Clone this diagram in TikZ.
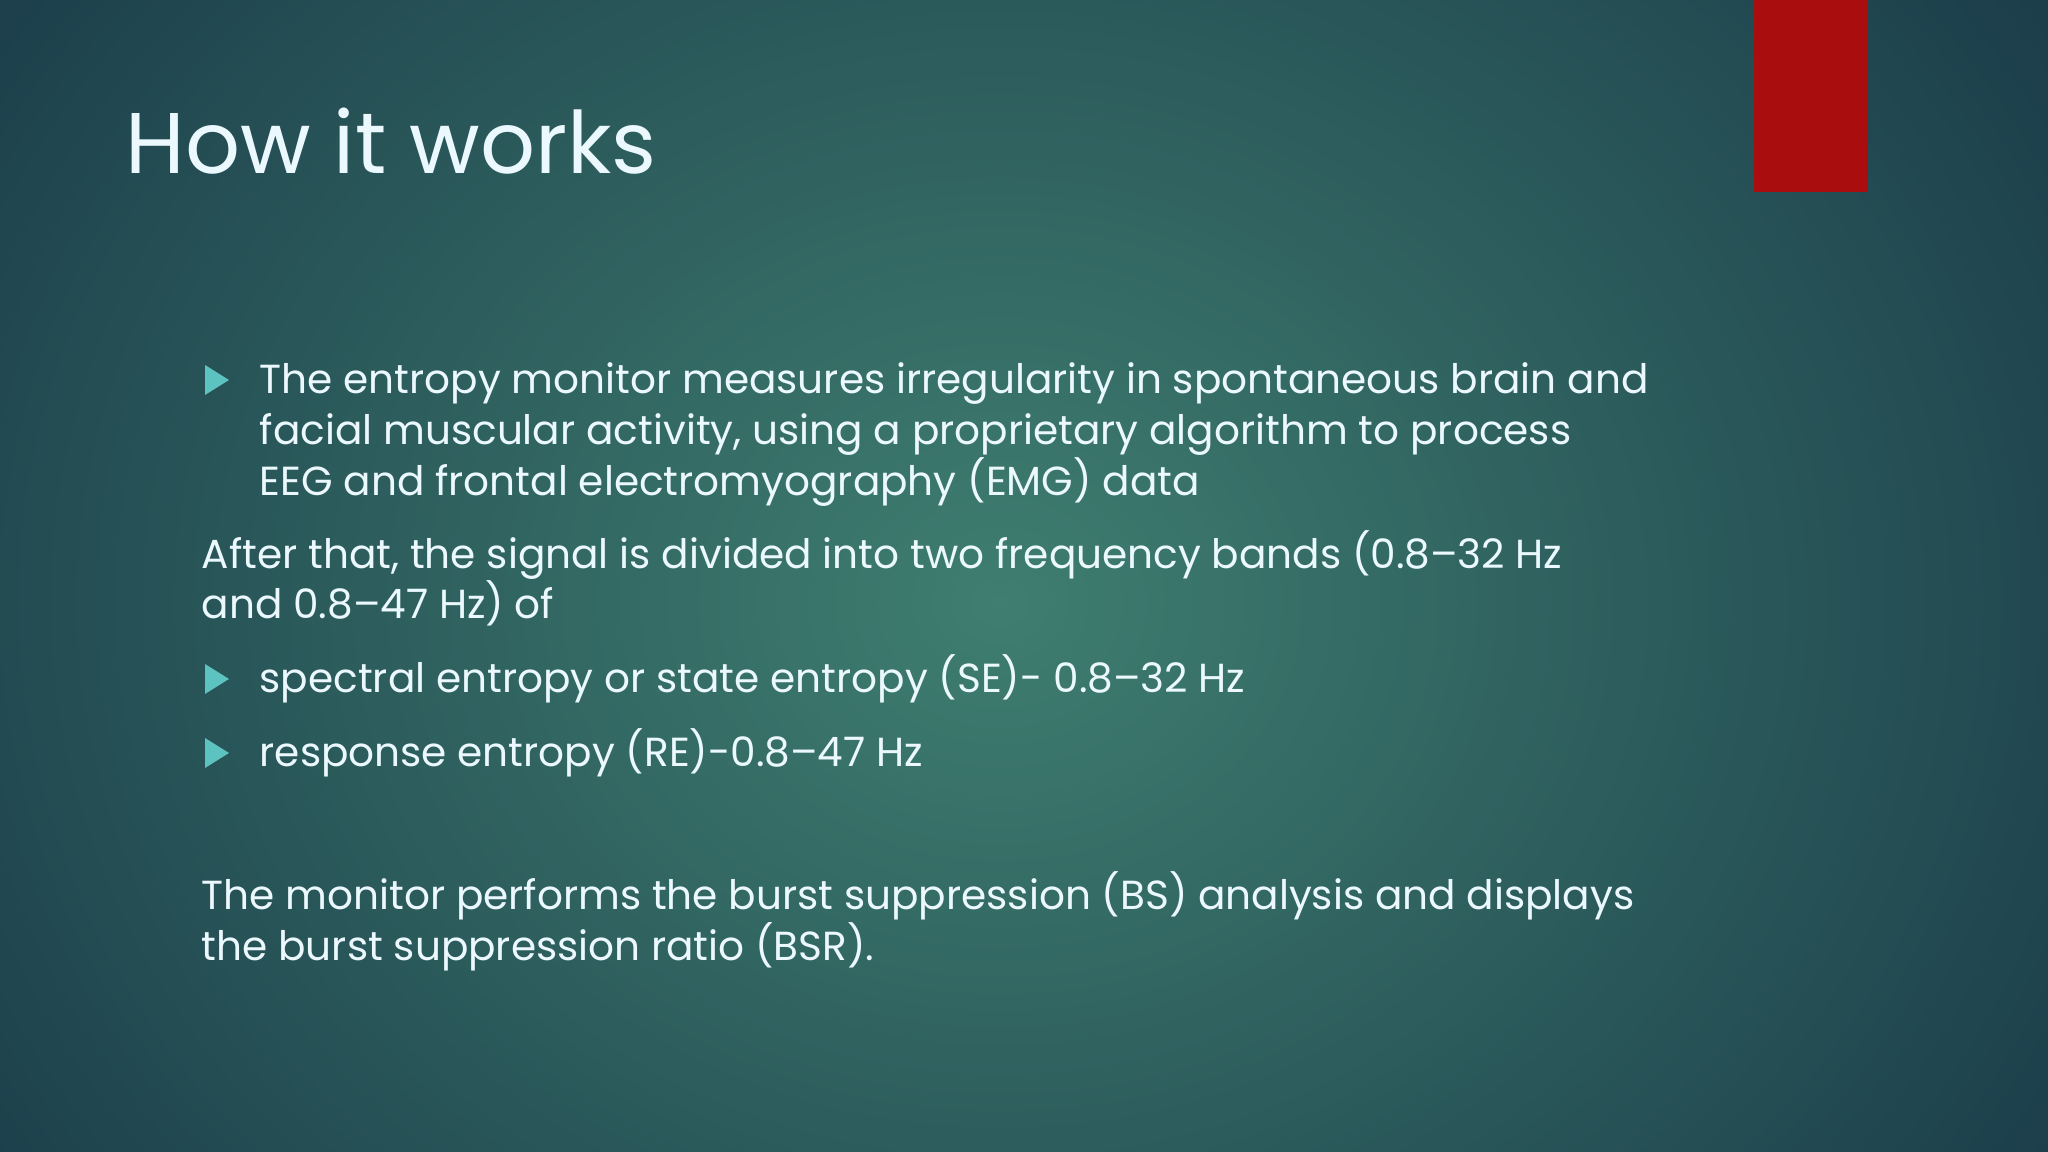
\documentclass[tikz,border=0pt]{standalone}
\usepackage{fontspec}
\setmainfont{Poppins}
\begin{document}
\begin{tikzpicture}[x=1cm,y=1cm,
  txt/.style={anchor=base west,inner sep=0pt,text=white!92!cyan,font=\fontsize{11.55pt}{14pt}\selectfont}]
\definecolor{bgc}{HTML}{3F7E70}\definecolor{bge}{HTML}{173646}\definecolor{bulc}{HTML}{5CC3C0}
\useasboundingbox (0,0) rectangle (20.48,11.52);
\fill[bge] (0,0) rectangle (20.48,11.52);
\shade[inner color=bgc,outer color=bge] (-4,-6.5) rectangle (24,17.5);
\fill[red!65!black!95] (17.54,9.6) rectangle (18.68,11.52);
\node[anchor=base west,inner sep=0pt,text=white!92!cyan,font=\fontsize{24.5pt}{28pt}\selectfont] (title) at (1.25,9.78) {How it works};
\newcommand{\bult}[1]{\fill[bulc] (2.05,#1+0.25) -- (2.05,#1-0.05) -- (2.29,#1+0.1) -- cycle;}
\bult{7.62}
\node[txt] (l1) at (2.59,7.58) {The entropy monitor measures irregularity in spontaneous brain and};
\node[txt] (l2) at (2.59,7.07) {facial muscular activity, using a proprietary algorithm to process};
\node[txt] (l3) at (2.59,6.56) {EEG and frontal electromyography (EMG) data};
\node[txt] (p1) at (2.01,5.83) {After that, the signal is divided into two frequency bands (0.8--32 Hz};
\node[txt] (p2) at (2.01,5.33) {and 0.8--47 Hz) of};
\bult{4.63}
\node[txt] (se) at (2.59,4.59) {spectral entropy or state entropy (SE)- 0.8--32 Hz};
\bult{3.89}
\node[txt] (re) at (2.59,3.85) {response entropy (RE)-0.8--47 Hz};
\node[txt] (f1) at (2.01,2.42) {The monitor performs the burst suppression (BS) analysis and displays};
\node[txt] (f2) at (2.01,1.91) {the burst suppression ratio (BSR).};
\end{tikzpicture}
\end{document}
